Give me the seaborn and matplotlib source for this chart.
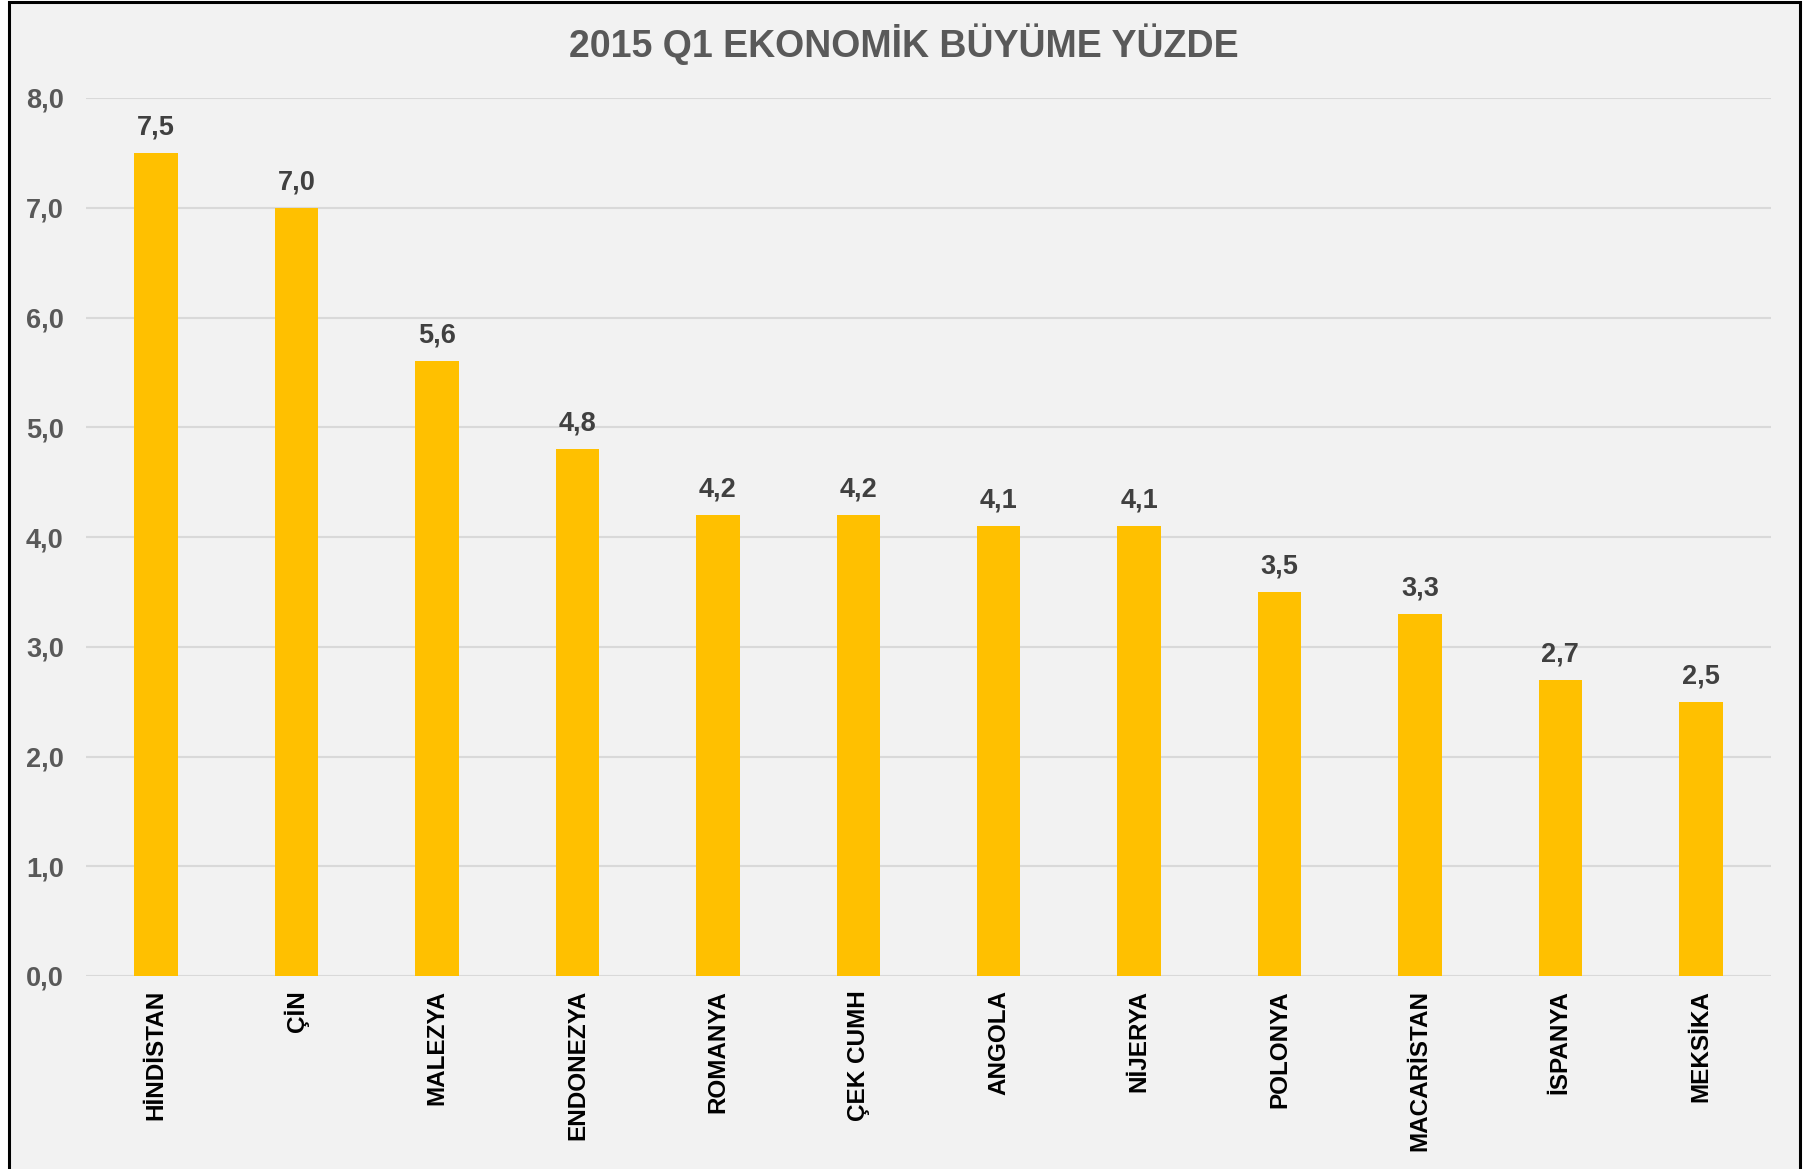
import matplotlib
matplotlib.use("Agg")
import matplotlib.pyplot as plt
import seaborn as sns
from matplotlib.patches import Rectangle
from matplotlib.ticker import FuncFormatter, MultipleLocator

countries = ["HİNDİSTAN", "ÇİN", "MALEZYA", "ENDONEZYA", "ROMANYA", "ÇEK CUMH",
             "ANGOLA", "NİJERYA", "POLONYA", "MACARİSTAN", "İSPANYA", "MEKSİKA"]
growth = [7.5, 7.0, 5.6, 4.8, 4.2, 4.2, 4.1, 4.1, 3.5, 3.3, 2.7, 2.5]
title = "2015 Q1 EKONOMİK BÜYÜME YÜZDE"

sns.set_style("white")
plt.rcParams["font.family"] = ["Liberation Sans", "DejaVu Sans"]
plt.rcParams["font.weight"] = "bold"

fig = plt.figure(figsize=(18.12, 11.69), dpi=100, facecolor="white")

# background panel with black frame (bottom edge is cut off in the original)
fig.patches.append(Rectangle((8.5 / 1812, -0.05), (1800 - 8.5) / 1812, 1.05 - 2 / 1169,
                             transform=fig.transFigure, facecolor="#F2F2F2",
                             edgecolor="black", linewidth=2.2, zorder=-5))

ax = fig.add_axes([86 / 1812, 1 - 976 / 1169, (1771 - 86) / 1812, (976 - 98) / 1169])
ax.set_facecolor("none")
ax.set_zorder(2)

sns.barplot(x=countries, y=growth, color="#FFC000", saturation=1, width=0.31,
            linewidth=0, ax=ax, zorder=3)

ax.bar_label(ax.containers[0], labels=[f"{v:.1f}".replace(".", ",") for v in growth],
             padding=9, fontsize=19.5, fontweight="bold", color="#404040")

ax.set_ylim(0, 8)
ax.set_xlim(-0.5, len(countries) - 0.5)
ax.yaxis.set_major_locator(MultipleLocator(1))
ax.yaxis.set_major_formatter(FuncFormatter(lambda v, p: f"{v:.1f}".replace(".", ",")))
ax.grid(axis="y", color="#D9D9D9", linewidth=1.5, zorder=0)
ax.set_axisbelow(True)
for s in ax.spines.values():
    s.set_visible(False)

ax.tick_params(axis="y", length=0, pad=16, labelsize=19.5, labelcolor="#595959")
ax.tick_params(axis="x", length=0, pad=10, labelsize=17.5, labelcolor="black",
               labelrotation=90)
ax.set_xlabel("")
ax.set_ylabel("")

fig.text(904 / 1812, 1 - 44 / 1169, title, ha="center", va="center",
         fontsize=27, fontweight="bold", color="#595959", zorder=3)

plt.savefig("out.png", dpi=100, facecolor=fig.get_facecolor())
